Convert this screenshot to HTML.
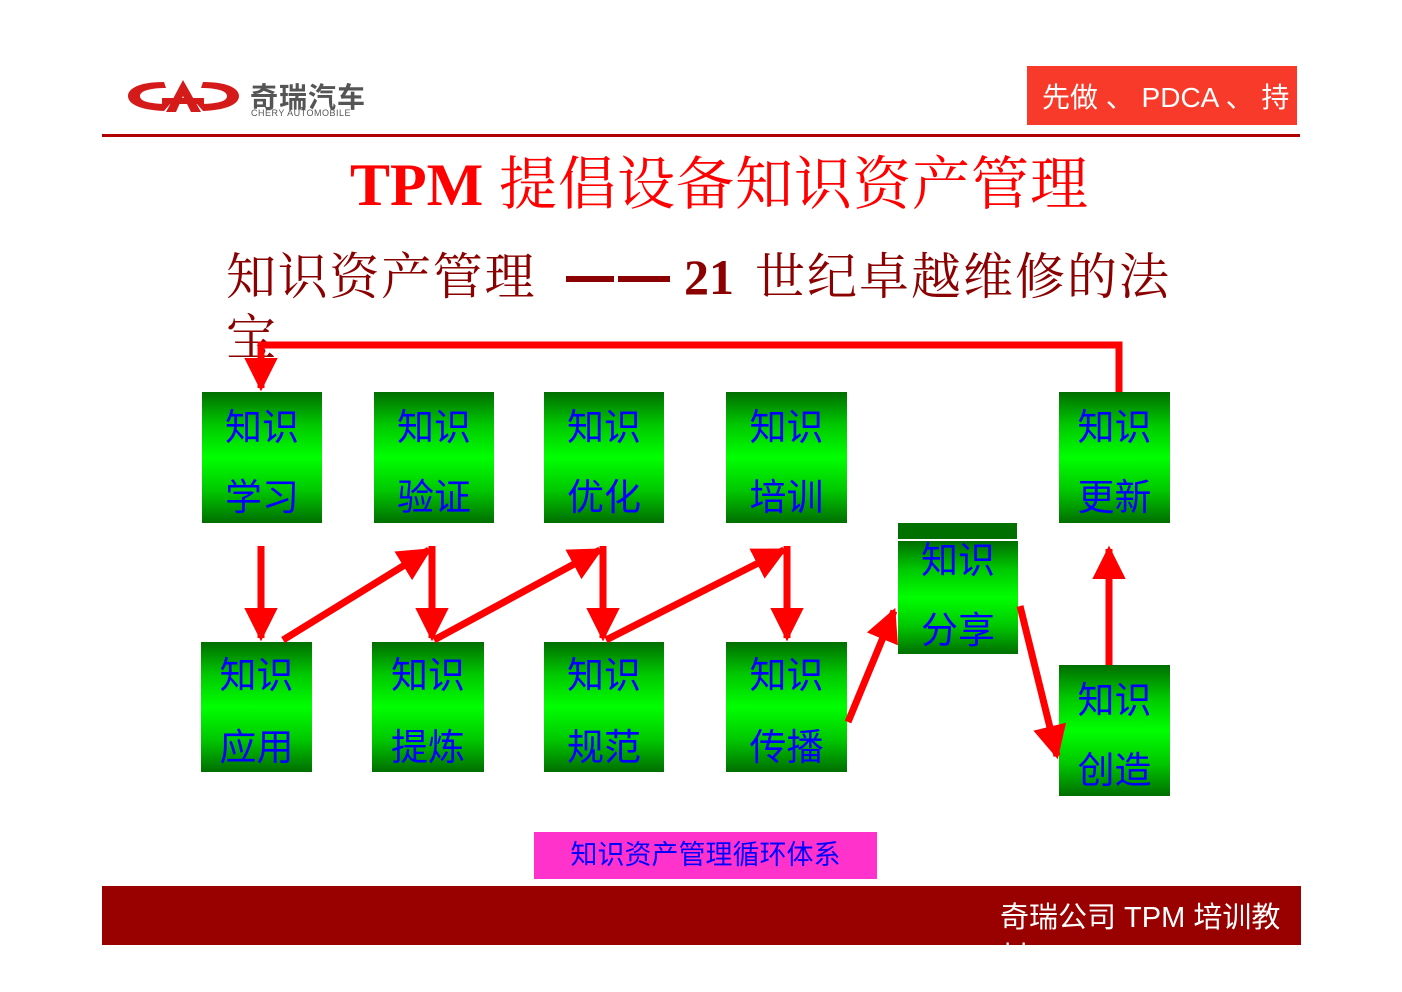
<!DOCTYPE html>
<html><head><meta charset="utf-8"><style>
body{margin:0;width:1402px;height:992px;background:#fff;position:relative;overflow:hidden;font-family:"Liberation Sans","Noto Sans CJK SC",sans-serif}
.a{position:absolute}
.box{position:absolute;background:linear-gradient(#006e00 0%,#00c800 25%,#00ff00 50%,#00c800 75%,#006e00 100%);color:#0000ff;font-size:37px;text-align:center;font-family:"Liberation Sans","Noto Sans CJK SC",sans-serif}
.box span{position:absolute;left:0;right:0;line-height:40px}
.serif{font-family:"Liberation Serif","Noto Serif CJK SC",serif}
</style></head><body>
<!-- logo -->
<svg class="a" style="left:126px;top:74px" width="115" height="44" viewBox="0 0 115 44">
<path d="M38 8 C10 8 2 16 2 22 C2 30 14 36 38 37 L44 30 C22 30 14 27 14 22 C14 17 24 14 40 14 Z" fill="#d51a1a"/>
<path d="M77 8 C105 8 113 16 113 22 C113 30 101 36 77 37 L71 30 C93 30 101 27 101 22 C101 17 91 14 75 14 Z" fill="#d51a1a"/>
<path d="M57 6 L40 38 L50 38 L57 22 L65 38 L75 38 Z" fill="#d51a1a"/>
<rect x="36" y="24" width="42" height="6" fill="#d51a1a"/>
</svg>
<div class="a" style="left:250px;top:76px;font-size:28px;font-weight:bold;color:#555;letter-spacing:1px">奇瑞汽车</div>
<div class="a" style="left:251px;top:108px;font-size:9px;color:#555;letter-spacing:0.5px">CHERY AUTOMOBILE</div>
<div class="a" style="left:102px;top:134px;width:1198px;height:3px;background:#b00000"></div>
<div class="a" style="left:1027px;top:66px;width:270px;height:59px;background:#f83a2a;overflow:hidden;color:#fff;font-size:28px"><div style="position:absolute;left:15px;top:10px;white-space:nowrap;line-height:44px">先做 、 PDCA 、 持<br>续</div></div>
<!-- titles -->
<div class="a serif" style="left:350px;top:150px;font-size:60px;color:#ff0000;white-space:nowrap;line-height:70px;font-weight:bold">TPM</div>
<div class="a serif" style="left:499px;top:150px;font-size:58px;color:#ff0000;white-space:nowrap;line-height:70px;letter-spacing:1px">提倡设备知识资产管理</div>
<div class="a serif" style="left:226px;top:246px;font-size:50px;color:#8b0000;white-space:nowrap;line-height:62px;letter-spacing:1.7px">知识资产管理</div>
<div class="a" style="left:566px;top:276px;width:48px;height:6px;background:#8b0000"></div>
<div class="a" style="left:618px;top:276px;width:52px;height:6px;background:#8b0000"></div>
<div class="a serif" style="left:684px;top:246px;font-size:50px;color:#8b0000;line-height:62px;font-weight:bold">21</div>
<div class="a serif" style="left:755px;top:246px;font-size:50px;color:#8b0000;white-space:nowrap;line-height:62px;letter-spacing:2px">世纪卓越维修的法</div>
<div class="a serif" style="left:226px;top:307px;font-size:50px;color:#8b0000;line-height:62px">宝</div>
<!-- boxes -->
<div class="box" style="left:202px;top:392px;width:120px;height:131px"><span style="top:16px">知识</span><span style="top:86px">学习</span></div>
<div class="box" style="left:374px;top:392px;width:120px;height:131px"><span style="top:16px">知识</span><span style="top:86px">验证</span></div>
<div class="box" style="left:544px;top:392px;width:120px;height:131px"><span style="top:16px">知识</span><span style="top:86px">优化</span></div>
<div class="box" style="left:726px;top:392px;width:121px;height:131px"><span style="top:16px">知识</span><span style="top:86px">培训</span></div>
<div class="box" style="left:1059px;top:392px;width:111px;height:131px"><span style="top:16px">知识</span><span style="top:86px">更新</span></div>
<div class="box" style="left:201px;top:642px;width:111px;height:130px"><span style="top:14px">知识</span><span style="top:86px">应用</span></div>
<div class="box" style="left:372px;top:642px;width:112px;height:130px"><span style="top:14px">知识</span><span style="top:86px">提炼</span></div>
<div class="box" style="left:544px;top:642px;width:120px;height:130px"><span style="top:14px">知识</span><span style="top:86px">规范</span></div>
<div class="box" style="left:726px;top:642px;width:121px;height:130px"><span style="top:14px">知识</span><span style="top:86px">传播</span></div>
<div class="a" style="left:898px;top:523px;width:119px;height:16px;background:#007000"></div>
<div class="box" style="left:898px;top:541px;width:120px;height:113px"><span style="top:0px">知识</span><span style="top:70px">分享</span></div>
<div class="box" style="left:1059px;top:665px;width:111px;height:131px"><span style="top:16px">知识</span><span style="top:86px">创造</span></div>
<!-- arrows -->
<svg class="a" style="left:0;top:0" width="1402" height="992">
<defs><marker id="m" markerWidth="4.8" markerHeight="4.8" viewBox="0 0 4 4" refX="3.6" refY="2" orient="auto" markerUnits="strokeWidth"><path d="M0,0 L4,2 L0,4 Z" fill="#ff0000"/></marker></defs>
<g stroke="#ff0000" stroke-width="7" fill="none">
<polyline points="1119,392 1119,345 261,345 261,388" marker-end="url(#m)"/>
<line x1="261" y1="546" x2="261" y2="638" marker-end="url(#m)"/>
<line x1="432" y1="546" x2="432" y2="638" marker-end="url(#m)"/>
<line x1="603" y1="546" x2="603" y2="638" marker-end="url(#m)"/>
<line x1="787" y1="546" x2="787" y2="638" marker-end="url(#m)"/>
<line x1="283" y1="640" x2="429" y2="550" marker-end="url(#m)"/>
<line x1="434" y1="640" x2="600" y2="550" marker-end="url(#m)"/>
<line x1="606" y1="640" x2="784" y2="550" marker-end="url(#m)"/>
<line x1="848" y1="722" x2="894" y2="611" marker-end="url(#m)"/>
<line x1="1020" y1="606" x2="1057" y2="756" marker-end="url(#m)"/>
<line x1="1109" y1="665" x2="1109" y2="549" marker-end="url(#m)"/>
</g></svg>
<!-- caption -->
<div class="a" style="left:534px;top:832px;width:343px;height:47px;background:#ff33cc;color:#0000ff;font-size:27px;line-height:47px;text-align:center">知识资产管理循环体系</div>
<!-- footer -->
<div class="a" style="left:102px;top:886px;width:1199px;height:59px;background:#990000;overflow:hidden"><div style="position:absolute;left:898px;top:12px;color:#fff;font-size:29px;line-height:40px;white-space:nowrap">奇瑞公司 TPM 培训教<br>材</div></div>
</body></html>
